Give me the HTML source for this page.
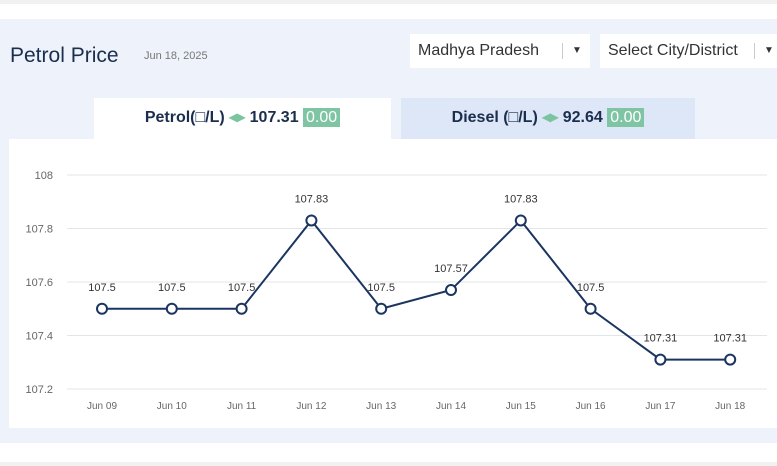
<!DOCTYPE html>
<html><head><meta charset="utf-8"><style>
body{margin:0;width:777px;height:466px;overflow:hidden;background:#fff;font-family:"Liberation Sans",sans-serif;position:relative}
.abs{position:absolute}
</style></head><body>
<div class="abs" style="left:0;top:0;width:777px;height:4px;background:#f1f1f1"></div>
<div class="abs" style="left:0;top:19px;width:777px;height:424px;background:#edf2fb"></div>
<div class="abs" style="left:0;top:462px;width:777px;height:4px;background:#f1f1f1"></div>
<div class="abs" style="left:10px;top:44px;font-size:21px;color:#1b2e4e">Petrol Price</div>
<div class="abs" style="left:144px;top:50px;font-size:11px;color:#777">Jun 18, 2025</div>
<div class="abs" style="left:410px;top:34px;width:180px;height:34px;background:#fff;font-size:16px;color:#333;line-height:34px;box-sizing:border-box;padding-left:8px">Madhya Pradesh<span style="position:absolute;left:152px;top:9px;height:16px;border-left:1px solid #ccc"></span><span style="position:absolute;left:162px;top:0;font-size:10px">▼</span></div>
<div class="abs" style="left:600px;top:34px;width:177px;height:34px;background:#fff;font-size:16px;color:#333;line-height:34px;box-sizing:border-box;padding-left:8px;white-space:nowrap">Select City/District<span style="position:absolute;left:154px;top:9px;height:16px;border-left:1px solid #ccc"></span><span style="position:absolute;left:164px;top:0;font-size:10px">▼</span></div>
<div class="abs" style="left:94px;top:98px;width:297px;height:41px;background:#fff;text-align:center;line-height:40px;font-size:16px;font-weight:bold;color:#1b2e4e">Petrol(□/L) <span style="color:#7bc4a0">◂▸</span> 107.31 <span style="background:#7fc4a3;color:#fff;font-weight:normal;padding:1px 3px">0.00</span></div>
<div class="abs" style="left:401px;top:98px;width:294px;height:41px;background:#dde7f7;text-align:center;line-height:40px;font-size:16px;font-weight:bold;color:#1b2e4e">Diesel (□/L) <span style="color:#7bc4a0">◂▸</span> 92.64 <span style="background:#7fc4a3;color:#fff;font-weight:normal;padding:1px 3px">0.00</span></div>
<div class="abs" style="left:9px;top:139px;width:768px;height:289px;background:#fff"></div>
<svg class="abs" style="left:0;top:0" width="777" height="466" id="chart"></svg>
<script>
const categories=["Jun 09","Jun 10","Jun 11","Jun 12","Jun 13","Jun 14","Jun 15","Jun 16","Jun 17","Jun 18"];
const values=[107.5,107.5,107.5,107.83,107.5,107.57,107.83,107.5,107.31,107.31];
const yTicks=[107.2,107.4,107.6,107.8,108];
const svg=document.getElementById('chart');
const NS='http://www.w3.org/2000/svg';
const y=v=>389-(v-107.2)/0.8*214;
const x=i=>102+i*69.8;
function mk(t,a,txt){const e=document.createElementNS(NS,t);for(const k in a)e.setAttribute(k,a[k]);if(txt!=null)e.textContent=txt;svg.appendChild(e);return e;}
yTicks.forEach(t=>{
 const g=mk('line',{x1:67,x2:767,y1:y(t),y2:y(t),stroke:'#e2e5ea','stroke-width':1});
 
 
 const l=mk('text',{x:53,y:y(t)+4,'text-anchor':'end','font-size':11,fill:'#666','font-family':'Liberation Sans'},String(t));
 
 
});
categories.forEach((c,i)=>{
 const l=mk('text',{x:x(i),y:409,'text-anchor':'middle','font-size':10,fill:'#666','font-family':'Liberation Sans'},c);
 
 
});
const line=mk('polyline',{points:values.map((v,i)=>x(i)+','+y(v)).join(' '),fill:'none',stroke:'#1b3560','stroke-width':2});


values.forEach((v,i)=>{
 const p=mk('circle',{cx:x(i),cy:y(v),r:5,fill:'#fff',stroke:'#1b3560','stroke-width':2});
 
 
 const t=mk('text',{x:x(i),y:y(v)-18,'text-anchor':'middle','font-size':11,fill:'#333','font-family':'Liberation Sans'},String(v));
 
 
});
</script>
</body></html>
